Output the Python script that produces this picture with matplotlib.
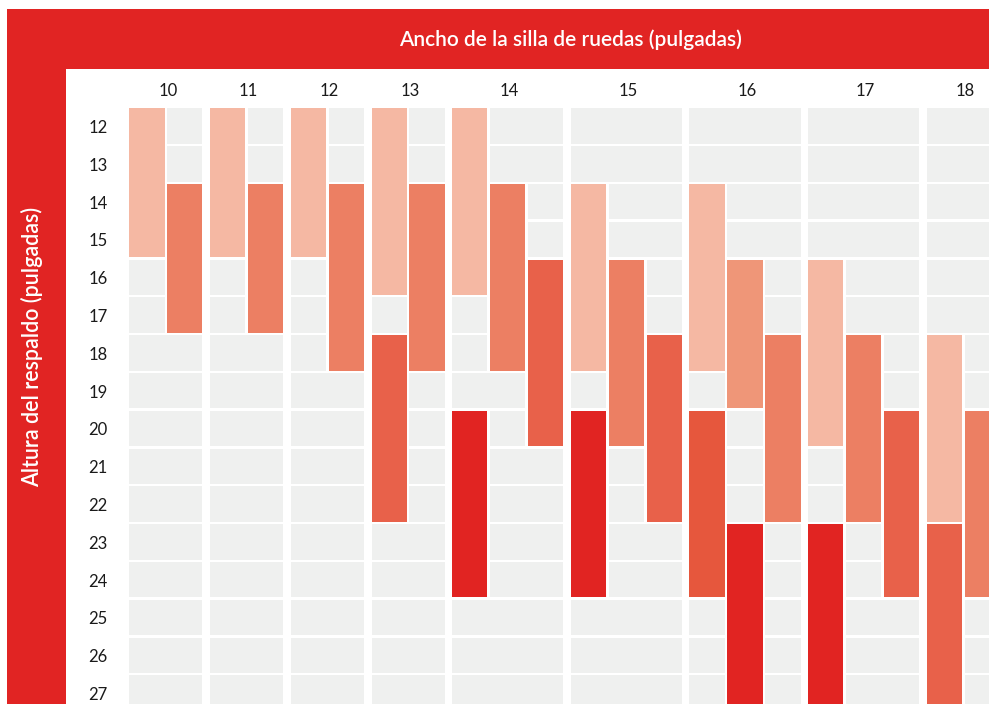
import numpy as np
import matplotlib.pyplot as plt
from matplotlib.patches import Rectangle

# wheelchair width groups (inches) and how many sub-columns each one has
widths = [10, 11, 12, 13, 14, 15, 16, 17, 18]
subcols = [2, 2, 2, 2, 3, 3, 3, 3, 2]
# backrest heights (inches), one row each
heights = list(range(12, 28))

# coloured bars: width group, sub-column, first row, last row, shade
bar_width = [10, 10, 11, 11, 12, 12, 13, 13, 13, 14, 14, 14, 14,
             15, 15, 15, 15, 16, 16, 16, 16, 16, 17, 17, 17, 17, 18, 18, 18]
bar_col = [0, 1, 0, 1, 0, 1, 0, 1, 0, 0, 1, 2, 0,
           0, 1, 2, 0, 0, 1, 2, 0, 1, 0, 1, 2, 0, 0, 1, 0]
bar_from = [12, 14, 12, 14, 12, 14, 12, 14, 18, 12, 14, 16, 20,
            14, 16, 18, 20, 14, 16, 18, 20, 23, 16, 18, 20, 23, 18, 20, 23]
bar_to = [15, 17, 15, 17, 15, 18, 16, 18, 22, 16, 18, 20, 24,
          18, 20, 22, 24, 18, 19, 22, 24, 27, 20, 22, 24, 27, 22, 24, 27]
bar_shade = [0, 2, 0, 2, 0, 2, 0, 2, 3, 0, 2, 3, 5,
             0, 2, 3, 5, 0, 1, 2, 4, 5, 0, 2, 3, 5, 0, 2, 3]

shades = ["#F5B8A3", "#EF9678", "#EC7F63", "#E8614A", "#E6573D", "#E12422"]
cell_color = "#EFF0EF"
red = "#E12423"

xtitle = "Ancho de la silla de ruedas (pulgadas)"
ytitle = "Altura del respaldo (pulgadas)"

plt.rcParams["font.family"] = ["Lato", "DejaVu Sans"]

W, H = 989, 704
fig = plt.figure(figsize=(W / 100, H / 100), dpi=100)
fig.patch.set_facecolor("white")

# red frame: top band and left band
fig.add_artist(Rectangle((7 / W, 1 - 69 / H), (W - 7) / W, 60 / H,
                         transform=fig.transFigure, color=red, lw=0))
fig.add_artist(Rectangle((7 / W, 0), 59 / W, (H - 9) / H,
                         transform=fig.transFigure, color=red, lw=0))

ax = fig.add_axes([66 / W, 0, (W - 66) / W, (H - 69) / H])
ax.set_axis_off()

gap = 0.13     # extra space between width groups (in sub-column units)
lx = 0.07      # white line between sub-columns
ly = 0.06      # white line between rows
starts = np.concatenate([[0], np.cumsum(np.array(subcols) + gap)[:-1]])
start_of = dict(zip(widths, starts))

# which cells are covered by a bar
busy = set()
for w, c, a, b in zip(bar_width, bar_col, bar_from, bar_to):
    for r in range(a, b + 1):
        busy.add((w, c, r))

# background cells: neighbouring empty sub-columns of a row merge into one cell
for w, s, n in zip(widths, starts, subcols):
    for r in heights:
        j = 0
        while j < n:
            if (w, j, r) in busy:
                j += 1
                continue
            k = j
            while k < n and (w, k, r) not in busy:
                k += 1
            ax.bar(s + (j + k) / 2, 1 - ly, bottom=r - 0.5 + ly / 2,
                   width=(k - j) - lx, color=cell_color, lw=0)
            j = k

for w, c, a, b, k in zip(bar_width, bar_col, bar_from, bar_to, bar_shade):
    ax.bar(start_of[w] + c + 0.5, (b - a + 1) - ly, bottom=a - 0.5 + ly / 2,
           width=1 - lx, color=shades[k], lw=0)

# column labels
for w, s, n in zip(widths, starts, subcols):
    ax.text(s + n / 2 + 0.05, 11.06, str(w), ha="center", va="center",
            fontsize=12, color="#1a1a1a")
# row labels
for r in heights:
    ax.text(-0.79, r + 0.05, str(r), ha="center", va="center",
            fontsize=12, color="#1a1a1a")

ax.set_xlim((66 - 128) / 37.9, (W - 128) / 37.9)
ax.set_ylim(12 + (H - 126.1) / 37.8, 12 - (126.1 - 69) / 37.8)

fig.text(570 / W, 1 - 46 / H, xtitle, ha="center", va="baseline",
         fontsize=15, fontweight="semibold", color="white")
fig.text(31.5 / W, 1 - 347 / H, ytitle, ha="center", va="center", rotation=90,
         fontsize=15.5, fontweight="semibold", color="white")

fig.savefig("out.png", dpi=100)
